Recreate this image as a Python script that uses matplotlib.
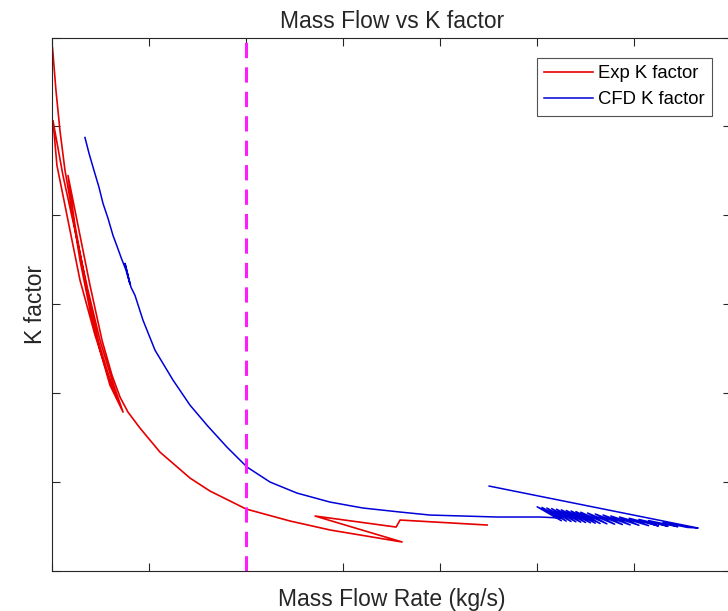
import matplotlib
matplotlib.use("Agg")
import matplotlib.pyplot as plt

plt.rcParams['font.family'] = ['Liberation Sans', 'DejaVu Sans']

# experimental K factor (hysteresis passes at low flow, then the long tail)
exp_flow = [0.0, 0.036, 0.077, 0.129, 0.201, 0.284, 0.387, 0.490, 0.593, 0.728,
            0.614, 0.490, 0.366, 0.232, 0.108, 0.005,
            0.046, 0.160, 0.284, 0.439, 0.573, 0.676,
            0.593, 0.470, 0.346, 0.232, 0.160,
            0.263, 0.387, 0.511, 0.614, 0.697, 0.779, 0.903, 1.109, 1.419, 1.625,
            1.832, 1.997, 2.451, 2.864, 3.607, 2.709, 3.545, 3.586, 4.484]
exp_k = [5.888, 5.404, 4.955, 4.506, 4.056, 3.494, 2.933, 2.483, 2.090, 1.787,
         2.146, 2.596, 3.157, 3.831, 4.449, 5.067,
         4.562, 3.944, 3.270, 2.652, 2.202, 1.921,
         2.146, 2.596, 3.213, 3.888, 4.449,
         3.888, 3.213, 2.596, 2.202, 1.955, 1.787, 1.607, 1.337, 1.045, 0.899,
         0.787, 0.697, 0.562, 0.461, 0.326, 0.618, 0.494, 0.573, 0.517]

# CFD K factor (main curve, then the scattered high-flow cluster)
cfd_flow = [0.335, 0.377, 0.428, 0.480, 0.521, 0.573, 0.624, 0.666, 0.707, 0.759,
            0.800, 0.748, 0.810, 0.851, 0.934, 1.058, 1.244, 1.419, 1.594, 1.800,
            2.007, 2.245, 2.523, 2.864, 3.204, 3.586, 3.896, 4.587, 5.031, 5.237,
            5.00, 5.25, 5.05, 5.30, 5.10, 5.35, 5.15, 5.40, 5.20, 5.45,
            5.25, 5.50, 5.30, 5.55, 5.35, 5.60, 5.40, 5.65, 5.45, 5.72,
            5.52, 5.80, 5.60, 5.88, 5.68, 5.96, 5.76, 6.05, 5.85, 6.15,
            5.95, 6.25, 6.05, 6.35, 6.15, 6.45, 6.30, 6.55, 6.661,
            4.505]
cfd_k = [4.876, 4.697, 4.506, 4.315, 4.135, 3.966, 3.775, 3.652, 3.528, 3.382,
         3.225, 3.461, 3.191, 3.101, 2.820, 2.483, 2.146, 1.865, 1.640, 1.393,
         1.169, 1.0, 0.876, 0.775, 0.708, 0.663, 0.629, 0.607, 0.607, 0.596,
         0.722, 0.565, 0.715, 0.561, 0.708, 0.557, 0.702, 0.553, 0.695, 0.549,
         0.688, 0.545, 0.681, 0.542, 0.675, 0.538, 0.668, 0.534, 0.661, 0.530,
         0.652, 0.526, 0.641, 0.522, 0.630, 0.518, 0.619, 0.514, 0.607, 0.510,
         0.593, 0.506, 0.580, 0.502, 0.567, 0.498, 0.546, 0.490, 0.483,
         0.955]

limit_flow = 2.0

fig = plt.figure(figsize=(7.28, 6.11), dpi=100)
ax = fig.add_axes([0.0721, 0.0655, 0.932, 0.873])

ax.plot(exp_flow, exp_k, color=(0.9, 0, 0), lw=1.2, label='Exp K factor')
ax.plot(cfd_flow, cfd_k, color=(0, 0, 0.85), lw=1.1, label='CFD K factor')
ax.axvline(limit_flow, color=(1, 0.1, 1), ls='--', lw=2.2, dashes=(5, 3))

ax.set_xlim(0, 7)
ax.set_ylim(0, 6)
ax.set_xticks(range(0, 8))
ax.set_yticks(range(0, 7))
ax.tick_params(direction='in', top=True, right=True, labelbottom=False,
               labelleft=False, length=6, color='0.15', width=0.8)
for sp in ax.spines.values():
    sp.set_color('0.15')
    sp.set_linewidth(0.8)

ax.set_title('Mass Flow vs K factor', fontsize=16.5, color='0.15', pad=7)
ax.set_xlabel('Mass Flow Rate (kg/s)', fontsize=16.5, color='0.15', labelpad=12)
ax.set_ylabel('K factor', fontsize=16.5, color='0.15', labelpad=4)

leg = ax.legend(loc='upper right', bbox_to_anchor=(0.972, 0.9625), fontsize=13.3,
                fancybox=False, edgecolor='0.15', handlelength=2.65,
                borderpad=0.4, labelspacing=0.5, handletextpad=0.27,
                borderaxespad=0)
leg.get_frame().set_linewidth(0.8)

fig.savefig('out.png', dpi=100)
